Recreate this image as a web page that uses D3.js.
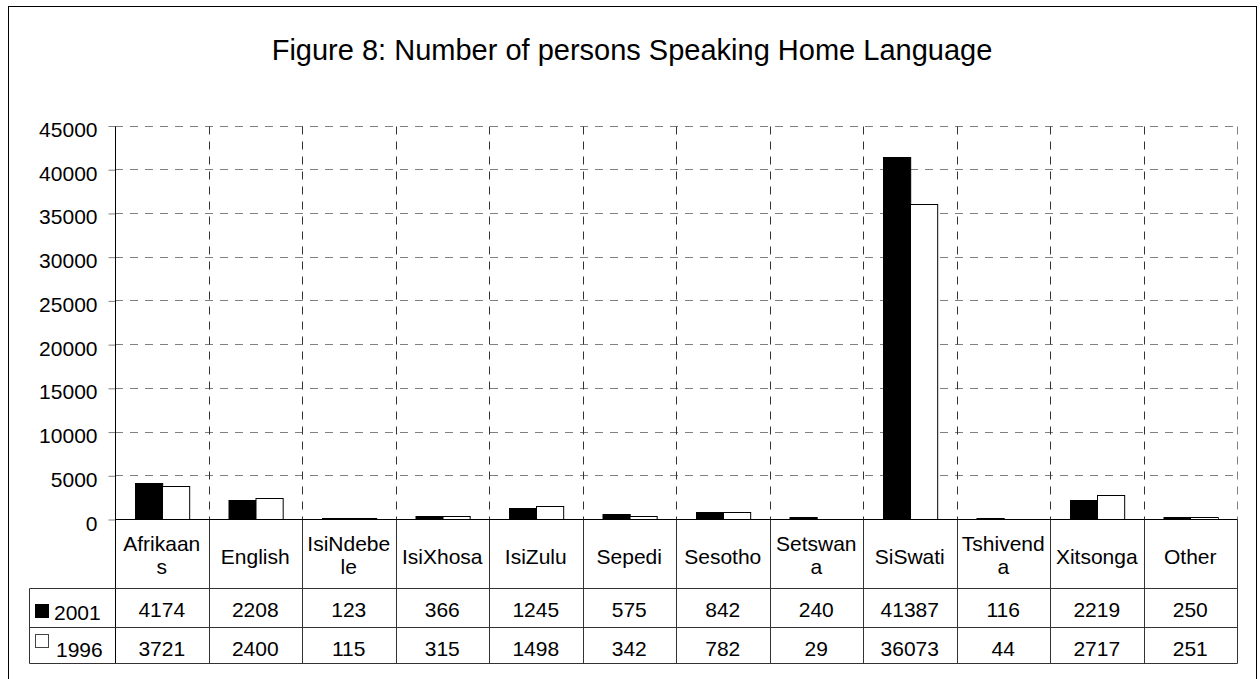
<!DOCTYPE html>
<html><head><meta charset="utf-8">
<script src="https://cdn.jsdelivr.net/npm/d3@7"></script>
<style>
html,body{margin:0;padding:0;background:#fff;}
svg{display:block;font-family:"Liberation Sans",Arial,sans-serif;}
</style></head>
<body>
<svg id="chart" width="1260" height="679"></svg>
<script>
const title = "Figure 8: Number of persons Speaking Home Language";
const categories = ["Afrikaans","English","IsiNdebele","IsiXhosa","IsiZulu","Sepedi","Sesotho","Setswana","SiSwati","Tshivenda","Xitsonga","Other"];
const categoryLabels = [["Afrikaan","s"],["English"],["IsiNdebe","le"],["IsiXhosa"],["IsiZulu"],["Sepedi"],["Sesotho"],["Setswan","a"],["SiSwati"],["Tshivend","a"],["Xitsonga"],["Other"]];
const seriesNames = ["2001","1996"];
const values2001 = [4174,2208,123,366,1245,575,842,240,41387,116,2219,250];
const values1996 = [3721,2400,115,315,1498,342,782,29,36073,44,2717,251];
const yTicks = [0,5000,10000,15000,20000,25000,30000,35000,40000,45000];
const seriesFill = ["#000000","#ffffff"];

const svg = d3.select("#chart");
const L = 115, R = 1237, T = 125.5, B = 519;
const rowCatB = 588, row1B = 627, row2B = 663, legL = 29;
const fontSmall = 21;
const px = v => Math.round(v) + 0.5;

const seriesValues = [values2001, values1996];
const data = categories.map((c,i)=>({cat:c, vals: seriesNames.map((s,j)=>({s, v: seriesValues[j][i], j}))}));

const x0 = d3.scaleBand().domain(categories).range([L,R]).paddingInner(0).paddingOuter(0);
const x1 = d3.scaleBand().domain(seriesNames).range([0,x0.bandwidth()]).paddingInner(0).paddingOuter(0.72);
const y = d3.scaleLinear().domain([0,45000]).range([B,T]);

// outer border
svg.append("rect").attr("x",8.5).attr("y",6.5).attr("width",1248).attr("height",700)
  .attr("fill","none").attr("stroke","#000").attr("stroke-width",1);

// title
svg.append("text").attr("x",632).attr("y",60).attr("text-anchor","middle")
  .attr("font-size",29).attr("fill","#000").text(title);

// horizontal gridlines
svg.append("g").selectAll("line").data(yTicks.filter(t=>t>0)).join("line")
  .attr("x1",L).attr("x2",R).attr("y1",d=>px(y(d))).attr("y2",d=>px(y(d)))
  .attr("stroke","#808080").attr("stroke-dasharray","8,7");

// vertical gridlines
const vx = categories.slice(1).map(c=>x0(c)).concat([R]);
svg.append("g").selectAll("line").data(vx).join("line")
  .attr("x1",d=>px(d)).attr("x2",d=>px(d)).attr("y1",px(T)).attr("y2",px(B))
  .attr("stroke",(d,i)=> i===vx.length-1 ? "#808080" : "#333").attr("stroke-dasharray","8,7");

// bars
const g = svg.append("g").selectAll("g").data(data).join("g")
  .attr("transform",d=>`translate(${x0(d.cat)},0)`);
g.selectAll("rect").data(d=>d.vals).join("rect")
  .attr("x",d=>Math.round(x1(d.s))+0.5)
  .attr("y",d=>Math.round(y(d.v))+0.5)
  .attr("width",x1.bandwidth())
  .attr("height",d=>Math.max(0, Math.round(B)-Math.round(y(d.v))))
  .attr("fill",d=>seriesFill[d.j]).attr("stroke","#000").attr("stroke-width",1);

// y axis
const yAxis = d3.axisLeft(y).tickValues(yTicks).tickSize(7).tickPadding(11).tickFormat(d3.format("d"));
const ya = svg.append("g").attr("transform",`translate(${L+0.5},0.5)`).call(yAxis);
ya.select(".domain").remove();
ya.selectAll(".tick line").attr("stroke","#808080");
ya.selectAll(".tick text").attr("font-size",fontSmall).attr("font-family","Liberation Sans, Arial, sans-serif")
  .attr("fill","#000").attr("dy",null).attr("y",10.5);

// axis line & baseline
svg.append("line").attr("x1",px(L)).attr("x2",px(L)).attr("y1",px(T)).attr("y2",px(row2B)).attr("stroke","#000");
svg.append("line").attr("x1",px(L)).attr("x2",px(R)).attr("y1",px(B)).attr("y2",px(B)).attr("stroke","#000");

// table grid
const tableStroke = "#333";
const tv = categories.slice(1).map(c=>x0(c)).concat([R]);
svg.append("g").selectAll("line").data(tv).join("line")
  .attr("x1",d=>px(d)).attr("x2",d=>px(d)).attr("y1",px(B)).attr("y2",px(row2B)).attr("stroke",tableStroke);
[rowCatB,row1B,row2B].forEach(yy=>{
  svg.append("line").attr("x1",px(legL)).attr("x2",px(R)).attr("y1",px(yy)).attr("y2",px(yy)).attr("stroke",tableStroke);
});
svg.append("line").attr("x1",px(legL)).attr("x2",px(legL)).attr("y1",px(rowCatB)).attr("y2",px(row2B)).attr("stroke",tableStroke);

// category labels via axis
const xAxis = d3.axisBottom(x0).tickSize(0).tickPadding(0);
const xa = svg.append("g").attr("transform",`translate(0,${B})`).call(xAxis);
xa.select(".domain").remove();
xa.selectAll(".tick text").each(function(d,i){
  const lines = categoryLabels[categories.indexOf(d)];
  const t = d3.select(this).text(null).attr("font-size",fontSmall)
    .attr("font-family","Liberation Sans, Arial, sans-serif").attr("fill","#000").attr("dy",null).attr("y",null);
  const base = lines.length===1 ? 45 : 32;
  lines.forEach((ln,k)=>t.append("tspan").attr("x",0).attr("y",base+k*23).text(ln));
});

// table values
const rowsY = [row1B-10.5, row2B-7];
const legendTextY = [619.5, 657];
seriesNames.forEach((s,j)=>{
  svg.append("g").selectAll("text").data(data).join("text")
    .attr("x",d=>x0(d.cat)+x0.bandwidth()/2).attr("y",rowsY[j])
    .attr("text-anchor","middle").attr("font-size",fontSmall).attr("fill","#000")
    .text(d=>d.vals[j].v);
  // legend key
  const ky = j===0 ? 604 : 634;
  svg.append("rect").attr("x",35.5).attr("y",ky+0.5).attr("width",13).attr("height",13)
    .attr("fill",seriesFill[j]).attr("stroke",j===0?"#000":"#444");
  svg.append("text").attr("x",j===0?54:56).attr("y",legendTextY[j]).attr("font-size",fontSmall).attr("fill","#000").text(s);
});
</script>
</body></html>
